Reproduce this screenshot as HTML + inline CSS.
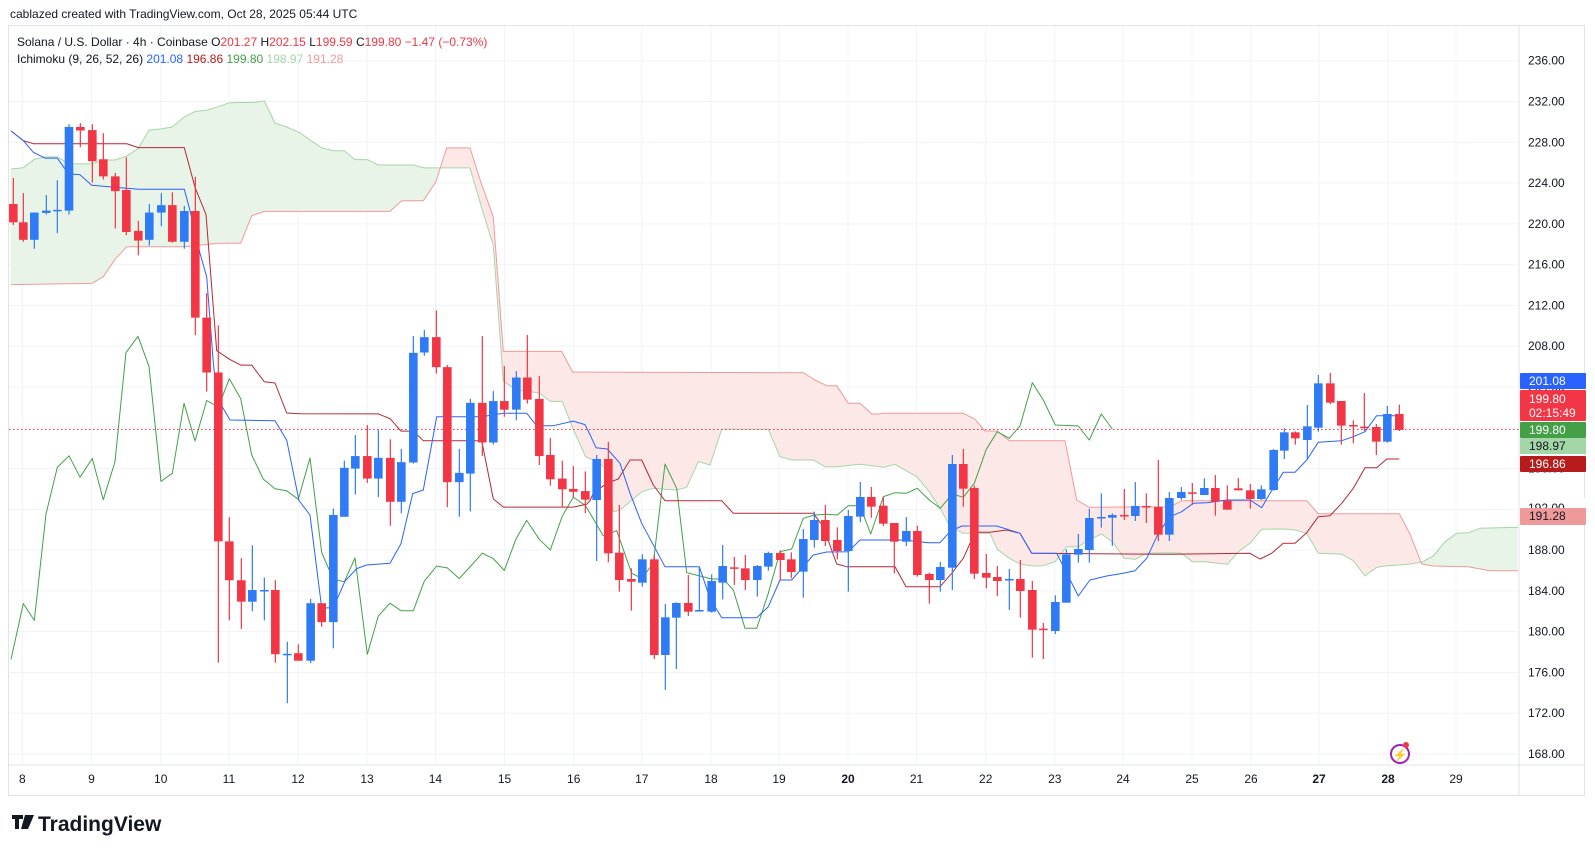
<!DOCTYPE html>
<html><head><meta charset="utf-8">
<style>
html,body{margin:0;padding:0;background:#fff;width:1595px;height:853px;overflow:hidden;font-family:"Liberation Sans",sans-serif;}
svg{position:absolute;left:0;top:0}
</style></head>
<body>
<svg id="s" width="1595" height="853" xmlns="http://www.w3.org/2000/svg" font-family="Liberation Sans, sans-serif"></svg>
<script>
const NS="http://www.w3.org/2000/svg";const S=document.getElementById('s');
function el(t,a,txt){const e=document.createElementNS(NS,t);for(const k in a)e.setAttribute(k,a[k]);if(txt!==undefined)e.textContent=txt;S.appendChild(e);return e;}
const Z=[p=>[p[0]/3,90+p[1]/2.57],p=>[290+p[0]/3,140+p[1]/2.8],p=>[580+p[0]/3,360+p[1]/3],p=>[870+p[0]/3,360+p[1]/3],p=>[1160+p[0]/3,360+p[1]/3]];
function pts(groups){let out=[];groups.forEach((g,i)=>{g.forEach(p=>{const q=Z[i](p);if(!out.length||q[0]>out[out.length-1][0]+0.3)out.push(q);});});return out;}
const R=1519,T=25,B=765;
// frame
el('rect',{x:8.5,y:25.5,width:1576,height:770,fill:'none',stroke:'#e0e3eb'});
el('line',{x1:R,y1:25,x2:R,y2:796,stroke:'#e0e3eb'});
el('line',{x1:8,y1:B,x2:1585,y2:B,stroke:'#e0e3eb'});
// grid
const yv=v=>60.7+(236-v)*10.196;
for(let v=236;v>=168;v-=4){const y=yv(v);el('line',{x1:9,y1:y,x2:R,y2:y,stroke:'#f0f3fa'});el('text',{x:1528,y:y+4,'font-size':12,fill:'#131722'},v.toFixed(2));}
const dates=[[8,22.4],[9,91.5],[10,160.7],[11,228.9],[12,298],[13,367],[14,435.4],[15,504.5],[16,573.7],[17,641.8],[18,711],[19,779],[20,848],[21,916.5],[22,985.7],[23,1054.8],[24,1123],[25,1192],[26,1251],[27,1319],[28,1388],[29,1456]];
dates.forEach(d=>{el('line',{x1:d[1],y1:26,x2:d[1],y2:B,stroke:'#f0f3fa'});el('text',{x:d[1],y:783,'font-size':12,fill:'#131722','text-anchor':'middle','font-weight':(d[0]==20||d[0]==27||d[0]==28)?'bold':'normal'},d[0]);});
// cloud
const A=pts([
[[33,203],[70,200],[103,178],[138,172],[172,172],[207,190],[275,190],[310,180],[345,180],[380,170],[415,150],[447,103],[483,100],[517,95],[552,70],[585,55],[620,52],[655,43],[688,33],[722,32],[760,32],[793,28],[825,85],[860,95],[900,110]],
[[60,0],[95,22],[130,30],[163,30],[195,55],[232,55],[265,70],[370,70],[403,78],[540,78],[575,190],[610,295],[640,675],[678,700],[748,708],[781,732],[817,732],[850,810],[886,885],[900,893]],
[[15,285],[48,300],[82,330],[100,455],[120,450],[150,425],[185,395],[220,385],[255,388],[290,390],[320,382],[355,305],[390,315],[425,208],[565,208],[600,290],[635,300],[700,300],[735,320],[770,320],[840,313],[900,320]],
[[40,322],[75,313],[140,350],[178,395],[211,445],[240,500],[280,520],[360,520],[382,568],[418,595],[450,612],[487,618],[520,617],[556,605],[589,560],[625,560],[658,540],[694,522],[727,545],[763,595],[796,598],[829,580],[900,578]],
[[65,580],[97,605],[133,605],[202,613],[235,575],[270,550],[305,508],[370,507],[405,510],[440,520],[475,580],[545,583],[580,602],[615,648],[650,622],[682,617],[718,615],[750,612],[785,607],[820,588],[855,545],[890,520],[925,518],[960,505],[1075,502]]]);
const Bp=pts([
[[33,500],[275,497],[310,480],[345,435],[380,403],[553,403],[585,400],[620,397],[655,394],[722,394],[755,323],[793,312],[900,312]],
[[35,200],[300,200],[335,170],[400,170],[437,118],[470,22],[540,22],[575,125],[610,215],[640,592],[815,592],[848,650],[900,650]],
[[15,38],[670,38],[705,60],[740,77],[770,77],[805,130],[840,130],[875,162],[900,162]],
[[40,160],[280,160],[315,178],[345,213],[382,213],[418,242],[585,242],[620,420],[658,442],[900,440]],
[[30,440],[65,422],[440,422],[475,461],[718,461],[750,522],[785,612],[820,618],[925,620],[990,632],[1075,632]]]);
function interp(P,x){if(x<=P[0][0])return P[0][1];for(let i=1;i<P.length;i++){if(x<=P[i][0]){const a=P[i-1],b=P[i];return a[1]+(b[1]-a[1])*(x-a[0])/(b[0]-a[0]);}}return P[P.length-1][1];}
let gp='',rp='';
for(let x=11;x<1518;x++){const a=interp(A,x),b=interp(Bp,x);const y1=Math.min(a,b),h=Math.abs(a-b);const s=`M${x} ${y1.toFixed(1)}v${h.toFixed(1)}`;if(a<b)gp+=s;else rp+=s;}
el('path',{d:gp,stroke:'#e8f4e8',fill:'none','stroke-width':1.05});
el('path',{d:rp,stroke:'#fde8e8',fill:'none','stroke-width':1.05});
function poly(P,c,w){el('polyline',{points:P.map(p=>p[0].toFixed(1)+','+p[1].toFixed(1)).join(' '),fill:'none',stroke:c,'stroke-width':w||1,'stroke-linejoin':'round'});}
poly(A,'#a5d6a7');poly(Bp,'#ef9a9a');
// current price line
el('line',{x1:9,y1:429.5,x2:R,y2:429.5,stroke:'#f23645','stroke-dasharray':'1.5,2.5'});
// chikou
poly(pts([
[[33,1463],[70,1320],[103,1363],[138,1090],[172,970],[207,940],[240,995],[277,947],[310,1053],[345,955],[378,675],[414,633],[447,710],[483,1006],[517,985],[552,805],[585,902],[620,798],[655,815],[688,742],[722,793],[755,938],[790,1000],[825,1025],[860,1030],[895,1052]],
[[25,1003],[60,890],[95,1155],[130,1230],[163,1237],[195,1170],[232,1440],[265,1333],[300,1297],[333,1318],[370,1318],[403,1235],[440,1193],[472,1198],[508,1228],[545,1190],[577,1157],[610,1172],[643,1205],[678,1117],[710,1065],[748,1118],[781,1148],[817,1053],[850,1000],[886,1023],[900,1045]],
[[15,437],[70,527],[110,512],[155,640],[185,655],[220,610],[255,312],[290,385],[320,638],[360,648],[395,657],[430,657],[460,690],[495,805],[530,805],[565,700],[600,575],[635,567],[670,475],[703,465],[740,463],[772,465],[805,437],[840,437],[872,522],[900,440]],
[[40,410],[75,398],[108,400],[142,385],[178,420],[211,445],[247,402],[280,412],[313,370],[349,268],[382,215],[418,235],[450,198],[487,68],[520,120],[556,195],[625,198],[658,240],[694,162],[727,207]],[]]),'#43a047');
// kijun
poly(pts([
[[33,105],[70,130],[100,138],[380,138],[415,148],[553,148],[585,250],[618,320],[650,670],[690,693],[722,707],[755,707],[793,750],[825,753],[860,830],[900,832]],
[[3,767],[265,767],[300,780],[333,815],[370,815],[400,842],[575,842],[610,1005],[640,1028],[850,1028],[890,1020],[900,1010]],
[[15,430],[40,400],[80,370],[115,357],[150,300],[185,300],[220,375],[255,422],[425,422],[460,460],[700,460],[730,500],[770,612],[800,620],[900,620]],
[[40,620],[75,620],[108,680],[210,680],[245,640],[280,595],[300,550],[320,517],[360,517],[410,510],[450,520],[485,580],[900,583]],
[[30,580],[270,580],[300,597],[335,580],[370,550],[405,550],[440,518],[475,470],[510,467],[545,430],[580,385],[615,323],[650,323],[680,297],[718,297]]]),'#b22833');
// tenkan
poly(pts([
[[33,105],[70,130],[100,160],[135,175],[172,175],[205,215],[240,218],[275,245],[415,255],[553,255],[570,310],[600,420],[620,480],[640,700],[650,790],[690,848],[825,850],[860,900],[897,1055]],
[[3,880],[25,1005],[60,1050],[95,1310],[130,1310],[165,1235],[200,1200],[230,1190],[300,1185],[333,1130],[368,990],[400,980],[440,775],[575,775],[640,765],[710,765],[740,800],[790,800],[850,787],[885,797],[900,825]],
[[15,195],[48,263],[82,267],[120,310],[150,400],[185,490],[255,620],[358,620],[390,715],[425,773],[530,773],[565,740],[600,660],[635,660],[700,585],[740,576],[805,575],[840,540],[900,540]],
[[40,540],[100,540],[175,548],[210,548],[240,515],[275,498],[380,498],[450,520],[485,580],[560,580],[625,708],[660,660],[710,648],[760,640],[795,632],[830,595],[865,520],[900,470]],
[[30,455],[65,455],[100,430],[140,428],[200,420],[270,420],[305,443],[330,400],[370,337],[405,337],[440,300],[475,247],[545,242],[580,230],[615,215],[650,167],[718,167]]]),'#2962ff');
// candles [zx,bt,bb,wt,wb,c]
const C=[
[[40,293,340,226,347,'r'],[70,340,385,265,390,'r'],[103,315,385,315,408,'b'],[139,310,316,270,320,'b'],[172,308,311,232,368,'b'],[207,95,310,88,320,'b'],[241,95,104,85,147,'r'],[277,103,183,88,238,'r'],[310,178,222,111,230,'r'],[346,222,260,213,356,'r'],[379,257,365,173,373,'r'],[415,362,387,336,425,'r'],[448,315,385,293,400,'b'],[484,296,315,265,350,'b'],[517,296,390,263,392,'r'],[553,311,390,298,408,'b'],[586,311,585,223,630,'r'],[620,585,726,522,775,'r'],[655,726,1160,605,1472,'r'],[688,1160,1260,1098,1363,'r'],[724,1260,1315,1203,1385,'r'],[757,1285,1315,1170,1340,'b'],[793,1285,1287,1253,1363,'b'],[826,1285,1450,1260,1472,'r'],[862,1449,1451,1418,1576,'b']],
[[25,1437,1458,1412,1458,'r'],[62,1297,1458,1285,1465,'b'],[95,1297,1350,1297,1363,'r'],[130,1050,1350,1032,1423,'b'],[163,918,1055,898,1055,'b'],[196,885,920,826,993,'b'],[232,885,948,798,960,'r'],[265,890,948,812,1000,'b'],[301,890,1013,838,1080,'r'],[334,902,1013,865,1045,'b'],[370,596,903,549,906,'b'],[403,552,595,532,604,'b'],[439,552,636,477,654,'r'],[472,636,958,630,1028,'r'],[508,932,958,865,1055,'b'],[541,736,934,725,1040,'b'],[577,736,847,549,885,'r'],[610,731,847,703,853,'b'],[643,731,755,633,775,'r'],[679,665,755,647,785,'b'],[712,665,727,546,738,'r'],[748,725,885,661,910,'r'],[781,882,950,834,968,'r'],[817,948,978,898,1028,'r'],[850,977,985,913,1000,'r'],[886,983,1007,928,1045,'r']],
[[50,297,420,285,603,'b'],[85,297,580,246,607,'r'],[118,578,660,435,695,'r'],[154,657,665,625,752,'r'],[187,598,668,583,680,'b'],[223,598,885,585,897,'r'],[256,772,885,732,990,'b'],[289,729,773,727,927,'b'],[325,729,755,645,768,'r'],[358,750,752,620,755,'b'],[395,663,755,643,758,'b'],[428,618,668,555,718,'b'],[463,622,626,591,675,'r'],[496,625,660,585,690,'r'],[532,618,660,615,710,'b'],[565,579,620,575,632,'b'],[601,579,600,571,662,'r'],[634,598,636,577,655,'r'],[670,537,635,507,713,'b'],[703,480,540,455,563,'b'],[736,480,543,435,558,'r'],[772,540,573,502,598,'r'],[805,468,573,450,695,'b'],[841,411,470,366,486,'b'],[874,411,440,381,473,'r']],
[[40,437,491,412,498,'r'],[73,489,545,489,640,'r'],[109,513,545,471,558,'b'],[142,513,645,497,650,'r'],[178,642,660,638,731,'r'],[211,621,660,606,695,'b'],[247,312,623,285,690,'b'],[280,312,386,267,440,'r'],[313,384,641,377,657,'r'],[349,639,653,582,685,'r'],[382,651,663,618,708,'r'],[418,657,659,627,750,'b'],[451,657,693,600,773,'r'],[487,690,809,663,893,'r'],[520,806,808,789,897,'r'],[556,726,813,706,822,'b'],[589,583,728,568,728,'b'],[625,567,584,522,608,'b'],[658,474,570,446,608,'b'],[694,471,475,400,503,'b'],[727,465,473,460,558,'b'],[763,465,467,387,480,'r'],[796,438,468,366,483,'b'],[829,438,441,400,489,'r'],[865,441,524,300,543,'r'],[898,414,524,396,543,'b']],
[[64,396,414,381,420,'b'],[97,397,400,369,435,'r'],[133,384,405,355,405,'b'],[166,384,425,345,467,'r'],[202,422,449,376,449,'r'],[235,385,391,354,391,'r'],[271,391,417,372,446,'r'],[304,388,417,376,420,'b'],[341,270,390,267,392,'b'],[373,217,272,205,297,'b'],[406,217,235,214,254,'r'],[442,199,240,135,300,'b'],[475,70,203,45,215,'b'],[511,70,128,39,132,'r'],[544,123,197,123,254,'r'],[580,195,197,181,250,'r'],[613,200,202,99,213,'r'],[649,201,245,192,285,'r'],[682,162,245,138,248,'b'],[718,162,210,134,213,'r']]];
C.forEach((g,i)=>g.forEach(c=>{const f=Z[i];const x=f([c[0],0])[0];const bt=f([0,c[1]])[1],bb=f([0,c[2]])[1],wt=f([0,c[3]])[1],wb=f([0,c[4]])[1];const col=c[5]=='r'?'#f23645':'#2f7bf5';
el('line',{x1:x,y1:wt,x2:x,y2:wb,stroke:col,'stroke-width':1.2});el('rect',{x:x-4.3,y:bt,width:8.6,height:Math.max(1.5,bb-bt),fill:col});}));
// price labels
function lab(y,h,bg,fg,t1,t2){el('rect',{x:1520,y:y,width:66,height:h,fill:bg,rx:1});el('text',{x:1529,y:y+(t2?13:12),'font-size':12,fill:fg},t1);if(t2)el('text',{x:1529,y:y+27,'font-size':12,fill:fg},t2);}
el('rect',{x:1520,y:498,width:66,height:14,fill:'#fff'});
el('text',{x:1528,y:512,'font-size':12,fill:'#131722'},'192.00');
lab(373,16,'#2962ff','#fff','201.08');
lab(390,31,'#f23645','#fff','199.80','02:15:49');
lab(422,16,'#43a047','#fff','199.80');
lab(438,16,'#a5d6a7','#131722','198.97');
lab(456,16,'#b71c1c','#fff','196.86');
lab(508,17,'#ef9a9a','#131722','191.28');
// header
el('text',{x:10,y:18,'font-size':12,fill:'#131722'},'cablazed created with TradingView.com, Oct 28, 2025 05:44 UTC');
const t1=el('text',{x:17,y:46,'font-size':12,fill:'#131722'});
t1.innerHTML='Solana / U.S. Dollar · 4h · Coinbase <tspan fill="#131722">O</tspan><tspan fill="#f23645">201.27</tspan> <tspan fill="#131722">H</tspan><tspan fill="#f23645">202.15</tspan> <tspan fill="#131722">L</tspan><tspan fill="#f23645">199.59</tspan> <tspan fill="#131722">C</tspan><tspan fill="#f23645">199.80 −1.47 (−0.73%)</tspan>';
const t2=el('text',{x:17,y:63,'font-size':12,fill:'#131722'});
t2.innerHTML='Ichimoku (9, 26, 52, 26) <tspan fill="#2962ff">201.08</tspan> <tspan fill="#b71c1c">196.86</tspan> <tspan fill="#43a047">199.80</tspan> <tspan fill="#a5d6a7">198.97</tspan> <tspan fill="#ef9a9a">191.28</tspan>';
// icon
el('circle',{cx:1400,cy:754,r:9,fill:'none',stroke:'#9c27b0','stroke-width':2});
el('text',{x:1400,y:759,'font-size':12,fill:'#9c27b0','text-anchor':'middle'},'⚡');
el('circle',{cx:1406,cy:745,r:3,fill:'#f23645'});
// footer logo
el('path',{d:'M12 815h11v4h-4v10h-4v-10h-3zM25 815h4l-4 14h-4zM29 815h5l-6 14h-4z',fill:'#131722'});
el('text',{x:38,y:831,'font-size':21,'font-weight':'bold',fill:'#131722'},'TradingView');
</script>
</body></html>
